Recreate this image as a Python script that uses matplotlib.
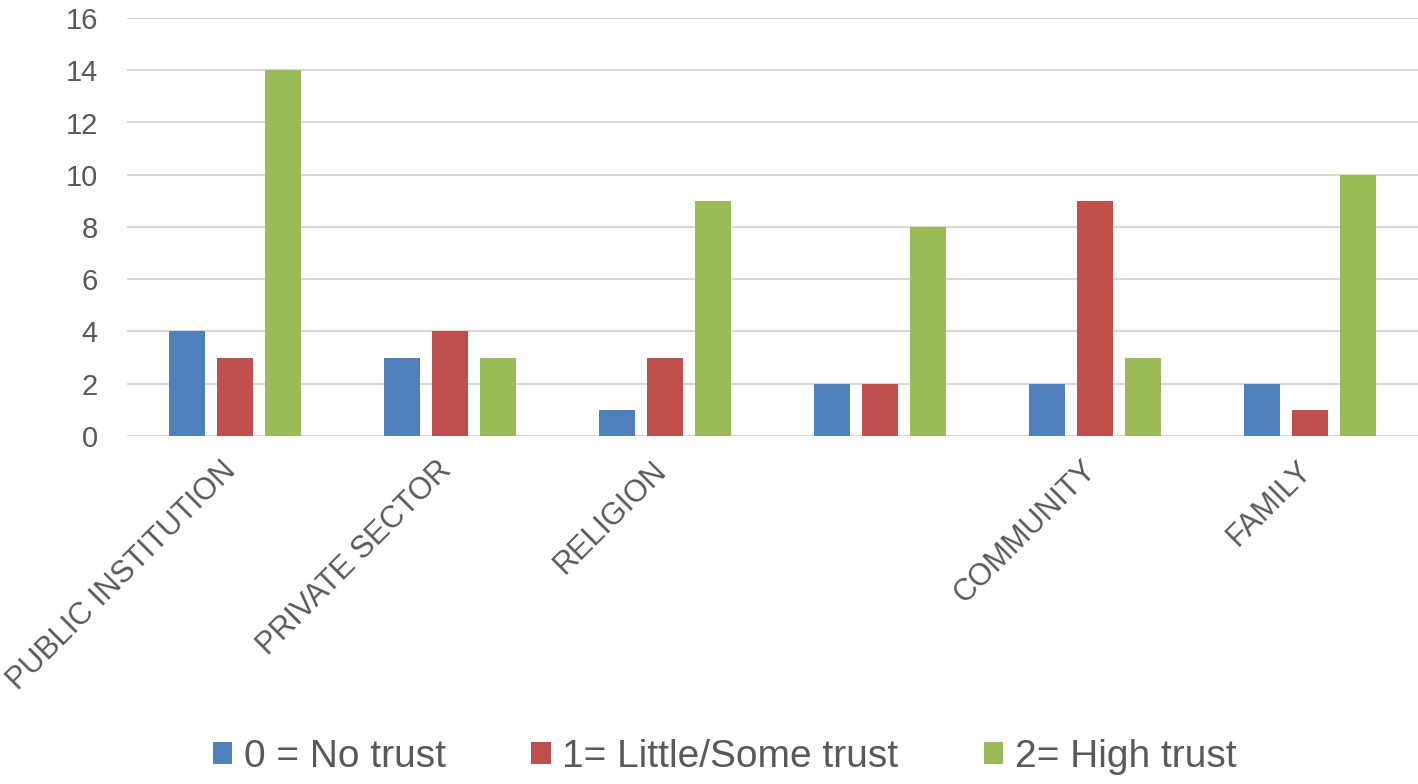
import numpy as np
import matplotlib.pyplot as plt
import matplotlib.transforms as mtransforms

# data
categories = ["PUBLIC INSTITUTION", "PRIVATE SECTOR", "RELIGION", "", "COMMUNITY", "FAMILY"]
no_trust = [4, 3, 1, 2, 2, 2]
little_trust = [3, 4, 3, 2, 9, 1]
high_trust = [14, 3, 9, 8, 3, 10]
series_labels = ["0 = No trust", "1= Little/Some trust", "2= High trust"]
colors = ["#4F81BD", "#C0504D", "#9BBB59"]

plt.rcParams['font.family'] = ['Liberation Sans', 'DejaVu Sans']
text_col = "#595959"

fig = plt.figure(figsize=(14.18, 7.84), dpi=100)
ax = fig.add_axes([0.0896, 0.444, 0.9104, 0.533])

x = np.arange(len(categories))
width = 0.167
step = 0.223
for i, (vals, lab, c) in enumerate(zip([no_trust, little_trust, high_trust], series_labels, colors)):
    ax.bar(x + (i - 1) * step, vals, width, color=c, label=lab, zorder=3)

ax.set_xlim(-0.5, len(categories) - 0.5)
ax.set_ylim(0, 16)
ax.set_yticks(range(0, 17, 2))
ax.grid(axis='y', color='#D9D9D9', linewidth=1.5, zorder=0)
for s in ax.spines.values():
    s.set_visible(False)
ax.tick_params(axis='y', length=0, pad=21, labelsize=21, labelcolor=text_col)
ax.tick_params(axis='x', length=0, pad=14)
ax.set_xticks(x)
ax.set_xticklabels(categories, rotation=45, ha='right', va='top',
                   rotation_mode='anchor', fontsize=22, color=text_col)
# nudge the slanted labels a little to the left
shift = mtransforms.ScaledTranslation(-10 / 72, 0, fig.dpi_scale_trans)
for lbl in ax.get_xticklabels():
    lbl.set_transform(lbl.get_transform() + shift)

fig.legend(loc='center', bbox_to_anchor=(0.511, 0.035), ncol=3, frameon=False,
           fontsize=28, labelcolor=text_col, handlelength=0.5, handleheight=0.5,
           handletextpad=0.3, columnspacing=2.2)

fig.savefig("out.png", dpi=100)
